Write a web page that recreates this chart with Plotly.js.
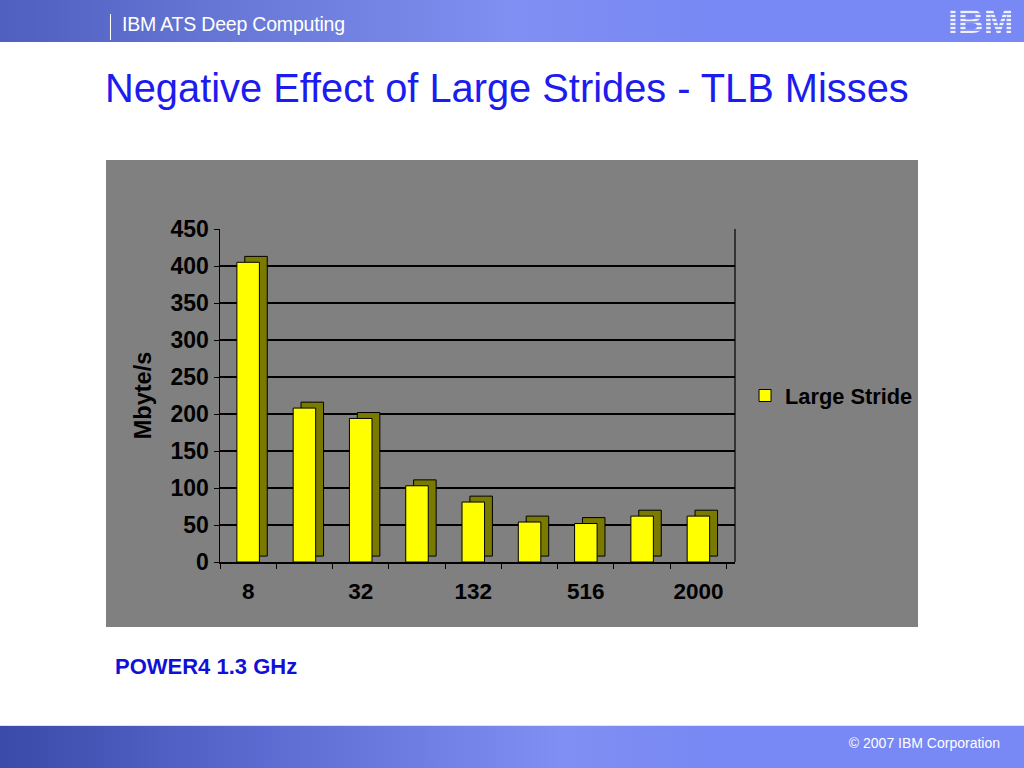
<!DOCTYPE html>
<html>
<head>
<meta charset="utf-8">
<script src="https://cdn.plot.ly/plotly-3.0.1.min.js"></script>
<style>
html,body{margin:0;padding:0;width:1024px;height:768px;overflow:hidden;background:#fff;font-family:"Liberation Sans",Arial,sans-serif;}
#hdr{position:absolute;left:0;top:0;width:1024px;height:42px;background:linear-gradient(to right,#4f5fc0 0%,#6a7ad8 25%,#7f8ff2 50%,#7888f4 70%,#7888f4 100%);}
#hdr .bar{position:absolute;left:110px;top:14px;width:1px;height:26px;background:#fff;}
#hdr .t{position:absolute;left:122px;top:13px;color:#fff;font-size:19.5px;letter-spacing:-0.2px;}
#hdr .logo{position:absolute;left:948px;top:3px;font-size:33px;font-weight:bold;font-family:"Liberation Sans",Arial,sans-serif;
  background:repeating-linear-gradient(to bottom,#eef1ff 0px,#eef1ff 2px,rgba(255,255,255,0.15) 2px,rgba(255,255,255,0.15) 4px);
  -webkit-background-clip:text;background-clip:text;color:transparent;transform:scaleX(1.08);transform-origin:left;}
#title{position:absolute;left:105px;top:66px;color:#1c1cf0;font-size:39.8px;}
#note{position:absolute;left:115px;top:654px;color:#1010d8;font-size:22px;font-weight:bold;}
#ftr{position:absolute;left:0;top:725px;width:1024px;height:43px;border-top:1px solid #dde2fb;background:linear-gradient(to right,#3a4aa8 0%,#5a6ad0 25%,#7f8ff2 55%,#7888f4 70%,#7888f4 100%);}
#ftr .c{position:absolute;right:24px;top:9px;color:#fff;font-size:14px;}
#chart{position:absolute;left:106px;top:160px;width:812px;height:467px;}
</style>
</head>
<body>
<div id="hdr"><div class="bar"></div><div class="t">IBM ATS Deep Computing</div><div class="logo">IBM</div></div>
<div id="title">Negative Effect of Large Strides - TLB Misses</div>
<div id="chart"></div>
<div id="note">POWER4 1.3 GHz</div>
<div id="ftr"><div class="c">© 2007 IBM Corporation</div></div>
<script>
const categories = ["8","16","32","64","132","256","516","1024","2000"];
const tickLabels = ["8","","32","","132","","516","","2000"];
const largeStride = [405, 208, 194, 103, 81, 54, 52, 62, 62];
const seriesName = "Large Stride";

const depth = largeStride.map(() => 8);
const FONT = "Liberation Sans, Arial, sans-serif";

const side = {
  type: "bar", x: categories, y: largeStride, base: depth,
  width: 0.4, offset: -0.06,
  marker: {color: "#7a7a00", line: {color: "#000", width: 1}},
  showlegend: false, hoverinfo: "skip"
};
const front = {
  type: "bar", x: categories, y: largeStride, name: seriesName,
  width: 0.4, offset: -0.2,
  marker: {color: "#ffff00", line: {color: "#000", width: 1}}
};

const layout = {
  width: 812, height: 467,
  paper_bgcolor: "#808080", plot_bgcolor: "#808080",
  margin: {l: 114, r: 183, t: 69, b: 65},
  barmode: "overlay",
  font: {family: FONT, color: "#000"},
  xaxis: {
    type: "category", tickvals: categories, ticktext: tickLabels,
    range: [-0.5, 8.65], tickangle: 0,
    tickson: "boundaries", ticks: "outside", ticklen: 5, tickcolor: "#000",
    showline: true, linecolor: "#000", linewidth: 1.5,
    showgrid: false, ticklabelstandoff: 8,
    tickfont: {size: 22.5, family: FONT, weight: "bold"}
  },
  yaxis: {
    range: [0, 450], dtick: 50, tick0: 0,
    ticks: "outside", ticklen: 5, tickcolor: "#000",
    showline: true, linecolor: "#000", linewidth: 1.5,
    showgrid: true, gridcolor: "#000", gridwidth: 1.2, zeroline: false,
    tickfont: {size: 23, family: FONT, weight: "bold"},
    title: {text: "Mbyte/s", standoff: 12, font: {size: 23.5, family: FONT, weight: "bold"}}
  },
  legend: {
    xref: "container", yref: "container",
    x: 0.787, y: 0.495, xanchor: "left", yanchor: "middle",
    bgcolor: "rgba(0,0,0,0)",
    font: {size: 21.8, family: FONT, weight: "bold"},
    itemwidth: 30
  },
  shapes: [
    {type: "line", xref: "paper", yref: "paper", x0: 1, x1: 1, y0: 0, y1: 1, line: {color: "#000", width: 1.2}}
  ]
};

Plotly.newPlot("chart", [side, front], layout, {displayModeBar: false, staticPlot: true});
</script>
</body>
</html>
